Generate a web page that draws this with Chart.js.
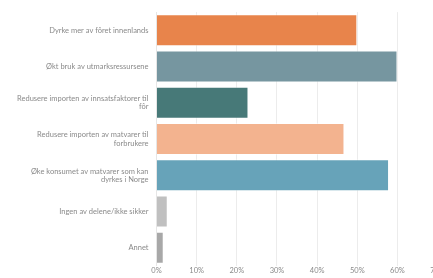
<!DOCTYPE html>
<html>
<head>
<meta charset="utf-8">
<script src="https://cdn.jsdelivr.net/npm/chart.js@4/dist/chart.umd.min.js"></script>
<style>
  html, body { margin: 0; padding: 0; background: #fff; overflow: hidden; }
  #wrap { width: 445px; height: 278px; position: relative; }
</style>
</head>
<body>
<div id="wrap"><canvas id="c" width="445" height="278"></canvas></div>
<script>
const categories = [
  "Dyrke mer av fôret innenlands",
  "Økt bruk av utmarksressursene",
  ["Redusere importen av innsatsfaktorer til", "fôr"],
  ["Redusere importen av matvarer til", "forbrukere"],
  ["Øke konsumet av matvarer som kan", "dyrkes i Norge"],
  "Ingen av delene/ikke sikker",
  "Annet"
];
const shares = [50, 60, 22.9, 46.8, 57.9, 2.8, 1.8];
const barColors = ["#E8844B", "#7696A0", "#477978", "#F3B38F", "#67A3B9", "#C0C0C0", "#A8A8A8"];
const xTicks = [0, 10, 20, 30, 40, 50, 60, 70];

new Chart(document.getElementById('c'), {
  type: 'bar',
  data: {
    labels: categories,
    datasets: [{
      data: shares,
      backgroundColor: barColors,
      borderColor: 'rgba(255,255,255,0.45)',
      borderWidth: 1,
      categoryPercentage: 0.94,
      barPercentage: 0.94
    }]
  },
  options: {
    indexAxis: 'y',
    responsive: false,
    animation: false,
    layout: { padding: { top: 7, right: 6, bottom: 0, left: 0 } },
    plugins: { legend: { display: false }, tooltip: { enabled: false } },
    scales: {
      x: {
        min: 0, max: 70,
        afterBuildTicks: s => { s.ticks = xTicks.map(v => ({ value: v })); },
        ticks: {
          callback: v => v + '%',
          font: { family: 'Lato', size: 7.5 },
          color: '#8a8a8a',
          padding: 0,
          maxRotation: 0
        },
        grid: { color: '#ececec', drawTicks: false },
        border: { display: false }
      },
      y: {
        afterFit: s => { s.width = 156.5; },
        ticks: {
          font: { family: 'Lato', size: 7.5, lineHeight: 1.1 },
          color: '#8a8a8a',
          padding: 8
        },
        grid: { display: false, drawTicks: false },
        border: { display: true, color: '#e6e6e6' }
      }
    }
  }
});
</script>
</body>
</html>
